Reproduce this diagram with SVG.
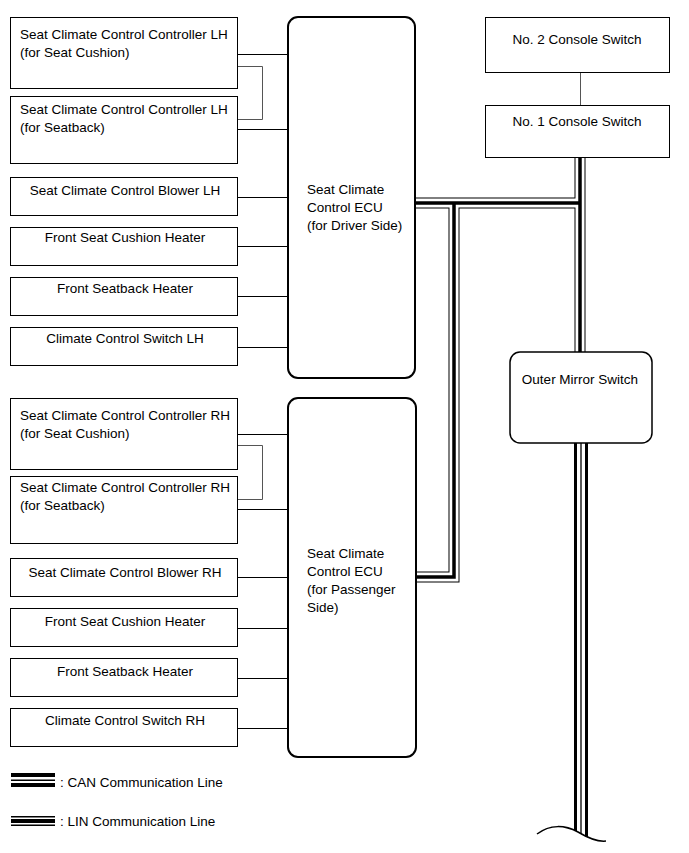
<svg xmlns="http://www.w3.org/2000/svg" width="689" height="853" viewBox="0 0 689 853">
<style>
text{font-family:"Liberation Sans",Arial,sans-serif;font-size:13.5px;fill:#000}
.c{text-anchor:middle}
.box{fill:#fff;stroke:#000;stroke-width:1}
.ecu{fill:#fff;stroke:#000;stroke-width:2}
.w{fill:none;stroke:#000;stroke-width:1}
.g{fill:none;stroke:#555;stroke-width:1}
.lo{fill:none;stroke:#000;stroke-width:11}
.lw{fill:none;stroke:#fff;stroke-width:9}
.lc{fill:none;stroke:#000;stroke-width:3.5}
.co{fill:none;stroke:#000;stroke-width:14}
.cw{fill:none;stroke:#fff;stroke-width:8}
.cc{fill:none;stroke:#000;stroke-width:1.3}
</style>
<defs>
<clipPath id="brk"><path d="M537,834 C550,824 565,825 578,832 C588,838 597,842 606,841 L606,440 L537,440 Z"/></clipPath>
</defs>
<rect width="689" height="853" fill="#fff"/>

<g id="connectors">
<path class="w" d="M238,54.5 H288 M238,129.5 H288 M238,197.5 H288 M238,246.5 H288 M238,296.5 H288 M238,347.5 H288"/>
<path class="g" d="M238,66.5 H262.5 V119.5 H238"/>
<path class="w" d="M238,434.5 H288 M238,509.5 H288 M238,577.5 H288 M238,628.5 H288 M238,678.5 H288 M238,728.5 H288"/>
<path class="g" d="M238,445.5 H262.5 V499.5 H238"/>
<path class="g" d="M580.5,72 V105"/>
<g id="lin">
<path class="lo" d="M580,157 V352 M416,203 H580 M454,203 V577 H416"/>
<path class="lw" d="M580,157 V352 M416,203 H580 M454,203 V577 H416"/>
<path class="lc" d="M580,157 V352 M416,203 H580 M454,203 V577 H416"/>
</g>
<g id="can" clip-path="url(#brk)">
<path class="co" d="M581,443 V850"/>
<path class="cw" d="M581,443 V850"/>
<path class="cc" d="M581,443 V850"/>
</g>
<path d="M537,834 C550,824 565,825 578,832 C588,838 597,842 606,841" fill="none" stroke="#000" stroke-width="1.5"/>
</g>

<g id="lh1"><rect class="box" x="10.5" y="17.5" width="227" height="71"/><text x="20" y="39">Seat Climate Control Controller LH</text><text x="20" y="57">(for Seat Cushion)</text></g>
<g id="lh2"><rect class="box" x="10.5" y="96.5" width="227" height="67"/><text x="20" y="114">Seat Climate Control Controller LH</text><text x="20" y="132">(for Seatback)</text></g>
<g id="lh3"><rect class="box" x="10.5" y="177.5" width="227" height="38"/><text class="c" x="125" y="195">Seat Climate Control Blower LH</text></g>
<g id="lh4"><rect class="box" x="10.5" y="227.5" width="227" height="38"/><text class="c" x="125" y="242">Front Seat Cushion Heater</text></g>
<g id="lh5"><rect class="box" x="10.5" y="277.5" width="227" height="38"/><text class="c" x="125" y="293">Front Seatback Heater</text></g>
<g id="lh6"><rect class="box" x="10.5" y="327.5" width="227" height="38"/><text class="c" x="125" y="343">Climate Control Switch LH</text></g>

<g id="ecu-driver"><rect class="ecu" x="288" y="17" width="127" height="361" rx="10"/><text x="307" y="194">Seat Climate</text><text x="307" y="212">Control ECU</text><text x="307" y="230">(for Driver Side)</text></g>

<g id="rh1"><rect class="box" x="10.5" y="398.5" width="227" height="71"/><text x="20" y="420">Seat Climate Control Controller RH</text><text x="20" y="438">(for Seat Cushion)</text></g>
<g id="rh2"><rect class="box" x="10.5" y="476.5" width="227" height="67"/><text x="20" y="492">Seat Climate Control Controller RH</text><text x="20" y="510">(for Seatback)</text></g>
<g id="rh3"><rect class="box" x="10.5" y="558.5" width="227" height="38"/><text class="c" x="125" y="577">Seat Climate Control Blower RH</text></g>
<g id="rh4"><rect class="box" x="10.5" y="608.5" width="227" height="38"/><text class="c" x="125" y="626">Front Seat Cushion Heater</text></g>
<g id="rh5"><rect class="box" x="10.5" y="658.5" width="227" height="38"/><text class="c" x="125" y="676">Front Seatback Heater</text></g>
<g id="rh6"><rect class="box" x="10.5" y="708.5" width="227" height="38"/><text class="c" x="125" y="725">Climate Control Switch RH</text></g>

<g id="ecu-passenger"><rect class="ecu" x="288" y="398" width="128" height="359" rx="10"/><text x="307" y="558">Seat Climate</text><text x="307" y="576">Control ECU</text><text x="307" y="594">(for Passenger</text><text x="307" y="612">Side)</text></g>

<g id="console2"><rect class="box" x="485.5" y="17.5" width="184" height="55"/><text class="c" x="577" y="44">No. 2 Console Switch</text></g>
<g id="console1"><rect class="box" x="485.5" y="105.5" width="184" height="52"/><text class="c" x="577" y="126">No. 1 Console Switch</text></g>
<g id="mirror"><rect class="ecu" x="510" y="352" width="142" height="91" rx="10" style="stroke-width:1.5"/><text class="c" x="580" y="384">Outer Mirror Switch</text></g>

<g id="legend">
<rect x="11" y="773" width="44" height="4"/><rect x="11" y="779.5" width="44" height="1.5"/><rect x="11" y="783" width="44" height="4"/>
<text x="60" y="787">: CAN Communication Line</text>
<rect x="11" y="816" width="44" height="1.5"/><rect x="11" y="819" width="44" height="4"/><rect x="11" y="824.5" width="44" height="1.5"/>
<text x="60" y="826">: LIN Communication Line</text>
</g>
</svg>
